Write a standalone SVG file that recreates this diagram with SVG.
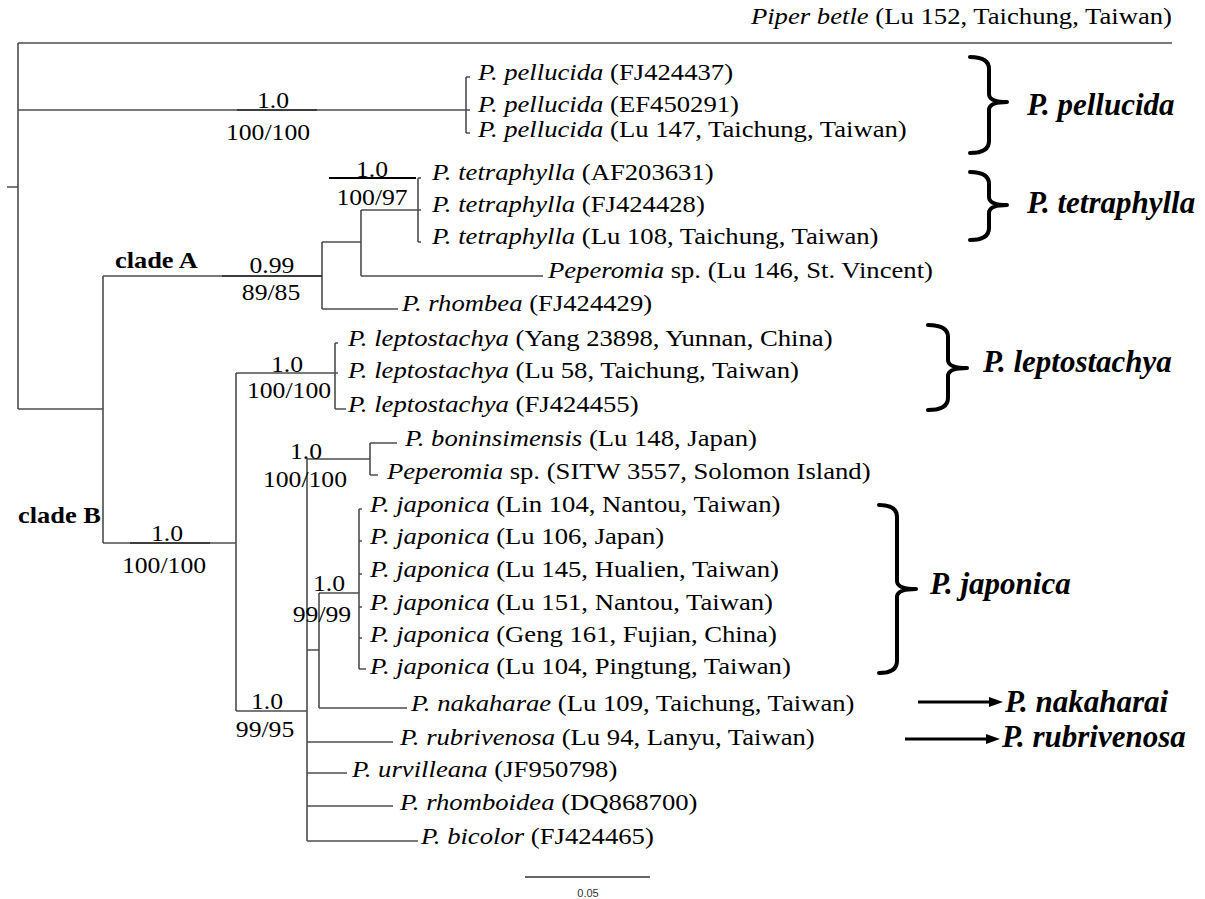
<svg xmlns="http://www.w3.org/2000/svg" width="1205" height="899" viewBox="0 0 1205 899">
<style>
.t{fill:none;stroke:#4d4d4d;stroke-width:1.6}
.ov{fill:none;stroke:#3d3d3d;stroke-width:1.8}
.lf{font-family:"Liberation Serif",serif;font-size:23px;fill:#000}
.i{font-style:italic}
.sv{font-family:"Liberation Serif",serif;font-size:24px;fill:#000;text-anchor:middle}
.cl{font-family:"Liberation Serif",serif;font-size:24px;font-weight:bold;fill:#000}
.big{font-family:"Liberation Serif",serif;font-size:31px;font-weight:bold;font-style:italic;fill:#000}
.br{fill:none;stroke:#000;stroke-width:4;stroke-linecap:round;stroke-linejoin:round}
.ar{stroke:#000;stroke-width:3}
</style>
<rect width="1205" height="899" fill="#fff"/>
<g id="connectors">
<path class="t" d="M7,187H18M18,43V409M18,43H1172M18,110H466M466,77V133M466,77H470M466,110H470M466,133H470M18,409H103M103,276V543M103,276H322M322,242V309M322,242H361M322,309H398M361,210V276M361,210H418M361,276H543M418,178V242M418,178H421M418,210H421M418,242H421M103,543H236M236,373V711M236,373H335M236,711H307M335,343V409M335,343H338M335,373H338M335,409H346M307,459V841M307,459H370M307,650H319M307,742H393M307,773H347M307,806H393M307,841H418M370,443V475M370,443H397M370,475H378M319,593V708M319,593H359M319,708H407M359,509V669M359,509H362M359,541H362M359,574H362M359,607H362M359,638H362M359,669H366"/>
<path class="ov" d="M237,110H317M222,276H322M130,543H210"/>
<path d="M329,178H416" stroke="#000" stroke-width="2.2"/>
<path d="M525,877H650" stroke="#333" stroke-width="1.5"/>
<path class="ar" d="M918,702H990M905,739H987"/>
<polygon points="989,697 1003,702 989,707"/>
<polygon points="986,734 1000,739 986,744"/>
</g>
<g id="leaves" transform="scale(1.16 1)">
<g id="n-piper"><text class="lf" x="1010.3" y="24" text-anchor="end"><tspan class="i">Piper betle</tspan> (Lu 152, Taichung, Taiwan)</text></g>
<g id="n-pel1"><text class="lf" x="412.1" y="80"><tspan class="i">P. pellucida</tspan> (FJ424437)</text></g>
<g id="n-pel2"><text class="lf" x="412.1" y="112"><tspan class="i">P. pellucida</tspan> (EF450291)</text></g>
<g id="n-pel3"><text class="lf" x="412.1" y="137"><tspan class="i">P. pellucida</tspan> (Lu 147, Taichung, Taiwan)</text></g>
<g id="n-tet1"><text class="lf" x="372.4" y="180"><tspan class="i">P. tetraphylla</tspan> (AF203631)</text></g>
<g id="n-tet2"><text class="lf" x="372.4" y="212"><tspan class="i">P. tetraphylla</tspan> (FJ424428)</text></g>
<g id="n-tet3"><text class="lf" x="372.4" y="244"><tspan class="i">P. tetraphylla</tspan> (Lu 108, Taichung, Taiwan)</text></g>
<g id="n-pep146"><text class="lf" x="472.4" y="278"><tspan class="i">Peperomia</tspan> sp. (Lu 146, St. Vincent)</text></g>
<g id="n-rhombea"><text class="lf" x="346.6" y="311"><tspan class="i">P. rhombea</tspan> (FJ424429)</text></g>
<g id="n-lep1"><text class="lf" x="300" y="346"><tspan class="i">P. leptostachya</tspan> (Yang 23898, Yunnan, China)</text></g>
<g id="n-lep2"><text class="lf" x="300" y="378"><tspan class="i">P. leptostachya</tspan> (Lu 58, Taichung, Taiwan)</text></g>
<g id="n-lep3"><text class="lf" x="300" y="412"><tspan class="i">P. leptostachya</tspan> (FJ424455)</text></g>
<g id="n-bonin"><text class="lf" x="349.1" y="446"><tspan class="i">P. boninsimensis</tspan> (Lu 148, Japan)</text></g>
<g id="n-sitw"><text class="lf" x="333.6" y="479"><tspan class="i">Peperomia</tspan> sp. (SITW 3557, Solomon Island)</text></g>
<g id="n-jap1"><text class="lf" x="319" y="512"><tspan class="i">P. japonica</tspan> (Lin 104, Nantou, Taiwan)</text></g>
<g id="n-jap2"><text class="lf" x="319" y="544"><tspan class="i">P. japonica</tspan> (Lu 106, Japan)</text></g>
<g id="n-jap3"><text class="lf" x="319" y="577"><tspan class="i">P. japonica</tspan> (Lu 145, Hualien, Taiwan)</text></g>
<g id="n-jap4"><text class="lf" x="319" y="610"><tspan class="i">P. japonica</tspan> (Lu 151, Nantou, Taiwan)</text></g>
<g id="n-jap5"><text class="lf" x="319" y="642"><tspan class="i">P. japonica</tspan> (Geng 161, Fujian, China)</text></g>
<g id="n-jap6"><text class="lf" x="319" y="674"><tspan class="i">P. japonica</tspan> (Lu 104, Pingtung, Taiwan)</text></g>
<g id="n-nak"><text class="lf" x="354.3" y="711"><tspan class="i">P. nakaharae</tspan> (Lu 109, Taichung, Taiwan)</text></g>
<g id="n-rub"><text class="lf" x="344.8" y="745"><tspan class="i">P. rubrivenosa</tspan> (Lu 94, Lanyu, Taiwan)</text></g>
<g id="n-urv"><text class="lf" x="303.4" y="777"><tspan class="i">P. urvilleana</tspan> (JF950798)</text></g>
<g id="n-rhd"><text class="lf" x="344.8" y="810"><tspan class="i">P. rhomboidea</tspan> (DQ868700)</text></g>
<g id="n-bic"><text class="lf" x="362.9" y="844"><tspan class="i">P. bicolor</tspan> (FJ424465)</text></g>
</g>
<g id="support" transform="scale(1.07 1)">
<text class="sv" x="255.1" y="108">1.0</text><text class="sv" x="250.5" y="140">100/100</text>
<text class="sv" x="347.7" y="177">1.0</text><text class="sv" x="347.7" y="205">100/97</text>
<text class="sv" x="254.2" y="273">0.99</text><text class="sv" x="253.3" y="300">89/85</text>
<text class="sv" x="268.2" y="372">1.0</text><text class="sv" x="270.1" y="398">100/100</text>
<text class="sv" x="286" y="459">1.0</text><text class="sv" x="285" y="487">100/100</text>
<text class="sv" x="307.5" y="591">1.0</text><text class="sv" x="300.9" y="622">99/99</text>
<text class="sv" x="156.1" y="541">1.0</text><text class="sv" x="153.3" y="573">100/100</text>
<text class="sv" x="249.5" y="709">1.0</text><text class="sv" x="247.7" y="737">99/95</text>
</g>
<g id="clades" transform="scale(1.1 1)">
<text class="cl" x="104.5" y="268">clade A</text>
<text class="cl" x="16.4" y="523">clade B</text>
</g>
<g id="groups">
<g id="g-pellucida"><path class="br" d="M970,57Q989,57 989,69L989,94Q989,102 1007,102Q989,102 989,110L989,141Q989,153 970,153"/><text class="big" x="1027" y="115">P. pellucida</text></g>
<g id="g-tetraphylla"><path class="br" d="M970,172Q989,172 989,184L989,197Q989,205 1007,205Q989,205 989,213L989,228Q989,240 970,240"/><text class="big" x="1027" y="213">P. tetraphylla</text></g>
<g id="g-leptostachya"><path class="br" d="M928,325Q948,325 948,337L948,360Q948,368 967,368Q948,368 948,376L948,398Q948,410 928,410"/><text class="big" x="983" y="372">P. leptostachya</text></g>
<g id="g-japonica"><path class="br" d="M879,505Q897,505 897,517L897,581Q897,589 916,589Q897,589 897,597L897,661Q897,673 879,673"/><text class="big" x="930" y="594">P. japonica</text></g>
<g id="g-nakaharai"><text class="big" x="1005" y="712">P. nakaharai</text></g>
<g id="g-rubrivenosa"><text class="big" x="1002" y="747">P. rubrivenosa</text></g>
</g>
<g id="scale"><text x="588" y="897" font-family="Liberation Sans,sans-serif" font-size="11" fill="#333" text-anchor="middle">0.05</text></g>
</svg>
